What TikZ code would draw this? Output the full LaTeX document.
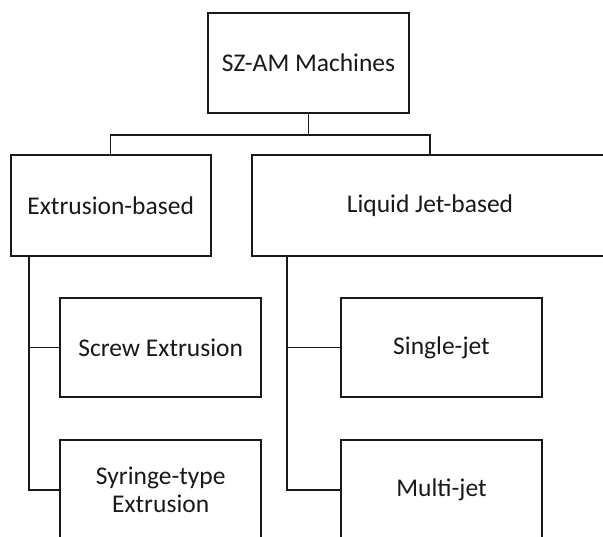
\documentclass[tikz,border=0pt]{standalone}
\usepackage{fontspec}
\setmainfont{Carlito}
\begin{document}
\begin{tikzpicture}[x=1pt,y=1pt,
  box/.style={draw=black!90, line width=1.6pt, fill=white, inner sep=0pt,
    align=center, font=\fontsize{25.5}{27.5}\selectfont, text=black!90},
  link/.style={draw=black!90, line width=1.5pt}]
\useasboundingbox (0,0) rectangle (603,-537);
\clip (0,0) rectangle (603,-537);
% boxes
\node[box, minimum width=201pt, minimum height=100pt] (top) at (308.5,-63) {SZ-AM Machines};
\node[box, minimum width=200pt, minimum height=101pt] (ext) at (110.7,-205.5) {Extrusion-based};
\node[box, minimum width=356pt, minimum height=101pt] (liq) at (430,-205.5) {Liquid Jet-based};
\node[box, minimum width=201pt, minimum height=99pt] (screw) at (160.7,-347.5) {Screw Extrusion};
\node[box, minimum width=201pt, minimum height=100pt] (syr) at (160.7,-490) {Syringe-type\\Extrusion};
\node[box, minimum width=201pt, minimum height=99pt] (single) at (441.5,-347.5) {Single-jet};
\node[box, minimum width=201pt, minimum height=100pt] (multi) at (441.5,-490) {Multi-jet};
% connectors
\coordinate (bus) at ([yshift=-21pt]top.south);
\draw[link] (top.south) -- (bus);
\draw[link] (ext.north) |- (bus) -| (liq.north);
\coordinate (lt) at ([xshift=19.3pt]ext.south west);
\coordinate (rt) at ([xshift=36pt]liq.south west);
\draw[link] (lt) |- (screw.west);
\draw[link] (lt) |- (syr.west);
\draw[link] (rt) |- (single.west);
\draw[link] (rt) |- (multi.west);
\end{tikzpicture}
\end{document}
